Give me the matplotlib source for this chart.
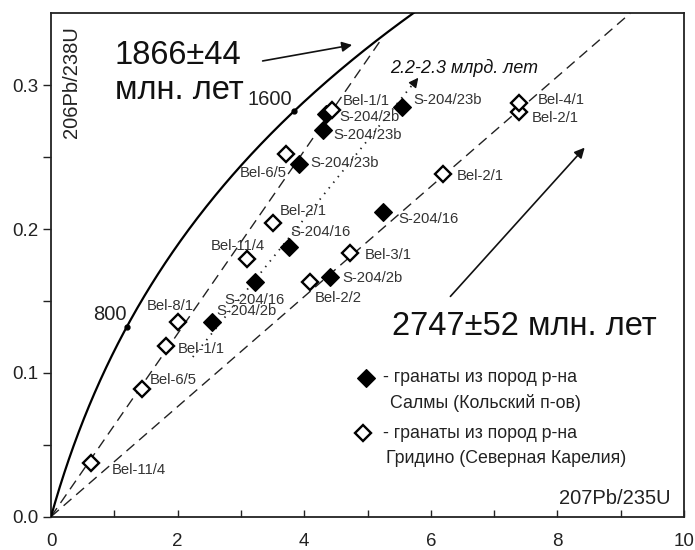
import numpy as np
import matplotlib
matplotlib.use('Agg')
import matplotlib.pyplot as plt

plt.rcParams['font.family'] = ['Liberation Sans', 'DejaVu Sans']

# Gridino garnets (open diamonds)
open_x = [0.63, 1.43, 1.81, 2.00, 3.09, 3.50, 3.71, 4.44, 4.09, 4.73, 6.19, 7.39, 7.39]
open_y = [0.037, 0.089, 0.119, 0.135, 0.179, 0.204, 0.252, 0.283, 0.163, 0.183, 0.238, 0.281, 0.2875]
open_names = ['Bel-11/4', 'Bel-6/5', 'Bel-1/1', 'Bel-8/1', 'Bel-11/4', 'Bel-2/1', 'Bel-6/5',
              'Bel-1/1', 'Bel-2/2', 'Bel-3/1', 'Bel-2/1', 'Bel-2/1', 'Bel-4/1']
open_off = [(15, -5), (6, 6), (9, -2.5), (-22, 12), (-26, 9.5), (5, 8.5), (-33, -13.5),
            (8, 6.5), (3.5, -11), (10, -1), (10, -1), (9, -4), (14, 2)]

# Salmy garnets (filled diamonds)
fill_x = [2.55, 3.22, 3.76, 4.41, 5.25, 3.92, 4.29, 4.35, 5.54]
fill_y = [0.135, 0.163, 0.1875, 0.1667, 0.212, 0.2454, 0.2685, 0.280, 0.2847]
fill_names = ['S-204/2b', 'S-204/16', 'S-204/16', 'S-204/2b', 'S-204/16', 'S-204/23b',
              'S-204/23b', 'S-204/2b', 'S-204/23b']
fill_off = [(3, 8.5), (-22, -12.5), (1, 11), (9, -1), (11, -5), (8, 0.5), (7.5, -3.5),
            (9, -2.5), (8.5, 5)]

# concordia ages marked, Ma
marked_ages = [800, 1600]
lam238 = 1.55125e-10
lam235 = 9.8485e-10

# discordia lines (end points)
discA_x = [0.0, 5.22]
discA_y = [0.0, 0.332]
discB_x = [0.0, 9.15]
discB_y = [0.0, 0.35]
dot_x = [2.24, 5.74]
dot_y = [0.111, 0.302]

fig = plt.figure(figsize=(6.95, 5.5), dpi=100)
ax = fig.add_axes([0.0734, 0.0606, 0.9108, 0.9153])

t = np.linspace(0, 2100, 400) * 1e6
ax.plot(np.exp(lam235 * t) - 1, np.exp(lam238 * t) - 1, color='k', lw=1.6, zorder=3)
ta = np.array(marked_ages) * 1e6
ax.plot(np.exp(lam235 * ta) - 1, np.exp(lam238 * ta) - 1, 'o', color='k', ms=3.5, zorder=4)
ax.text(3.11, 0.2859, '1600', fontsize=14.5, color='#222', va='baseline')
ax.text(0.66, 0.1366, '800', fontsize=14.5, color='#222', va='baseline')

ax.plot(discA_x, discA_y, color='#222', lw=1.0, dashes=(7.5, 4.5), zorder=2)
ax.plot(discB_x, discB_y, color='#222', lw=1.0, dashes=(7.5, 4.5), zorder=2)
ax.plot(dot_x, dot_y, color='#222', lw=1.3, linestyle=(0, (0.8, 3.2)), zorder=2)
ax.annotate('', xy=(5.83, 0.3067), xytext=(5.72, 0.3005),
            arrowprops=dict(arrowstyle='-|>', color='#111', lw=1, mutation_scale=14))

ax.annotate('', xy=(4.80, 0.3283), xytext=(3.30, 0.3165),
            arrowprops=dict(arrowstyle='-|>', color='#111', lw=1.2, mutation_scale=15))
ax.annotate('', xy=(8.46, 0.258), xytext=(6.28, 0.1517),
            arrowprops=dict(arrowstyle='-|>', color='#111', lw=1.2, mutation_scale=15))

ax.plot(fill_x, fill_y, 'D', ms=9, mfc='k', mec='k', mew=0.8, ls='none', zorder=5)
ax.plot(open_x, open_y, 'D', ms=7.8, mfc='white', mec='k', mew=1.7, ls='none', zorder=6)

for x, y, s, (dx, dy) in zip(fill_x, fill_y, fill_names, fill_off):
    ax.annotate(s, (x, y), xytext=(dx, dy), textcoords='offset points',
                fontsize=10.7, color='#333', ha='left', va='center', zorder=7)
for x, y, s, (dx, dy) in zip(open_x, open_y, open_names, open_off):
    ax.annotate(s, (x, y), xytext=(dx, dy), textcoords='offset points',
                fontsize=10.7, color='#333', ha='left', va='center', zorder=7)

ax.text(1.01, 0.3149, '1866±44', fontsize=23.5, color='#111', va='baseline')
ax.text(1.01, 0.2906, 'млн. лет', fontsize=23.5, color='#111', va='baseline')
ax.text(5.38, 0.1262, '2747±52 млн. лет', fontsize=23.5, color='#111', va='baseline')
ax.text(5.355, 0.3088, '2.2-2.3 млрд. лет', fontsize=12.9, style='italic', color='#111',
        va='baseline')

ax.text(0.316, 0.302, '206Pb/238U', fontsize=14.5, rotation=90, color='#222',
        ha='center', va='center')
ax.text(9.78, 0.006, '207Pb/235U', fontsize=14.5, color='#222', ha='right', va='bottom')

# legend drawn by hand
ax.plot([4.98], [0.0961], 'D', ms=9, mfc='k', mec='k', mew=0.8)
ax.plot([4.93], [0.0579], 'D', ms=7.8, mfc='white', mec='k', mew=1.7)
ax.text(5.25, 0.0967, '- гранаты из пород р-на', fontsize=12.8, color='#222', va='center')
ax.text(5.355, 0.0793, 'Салмы (Кольский п-ов)', fontsize=12.8, color='#222', va='center')
ax.text(5.25, 0.0578, '- гранаты из пород р-на', fontsize=12.8, color='#222', va='center')
ax.text(5.29, 0.0404, 'Гридино (Северная Карелия)', fontsize=12.8, color='#222', va='center')

ax.set_xlim(0, 10)
ax.set_ylim(0, 0.35)
ax.set_xticks([0, 2, 4, 6, 8, 10])
ax.set_xticks([1, 3, 5, 7, 9], minor=True)
ax.set_yticks([0.0, 0.1, 0.2, 0.3])
ax.set_yticks([0.05, 0.15, 0.25], minor=True)
ax.set_yticklabels(['0.0', '0.1', '0.2', '0.3'])
ax.tick_params(axis='x', which='both', direction='in', length=5, width=1, pad=12,
               labelsize=13.5, colors='#222')
ax.tick_params(axis='y', which='both', direction='out', length=6, width=1, pad=3,
               labelsize=13.5, colors='#222')
for sp in ax.spines.values():
    sp.set_linewidth(1.3)
    sp.set_color('#222')

fig.savefig('out.png', dpi=100)
